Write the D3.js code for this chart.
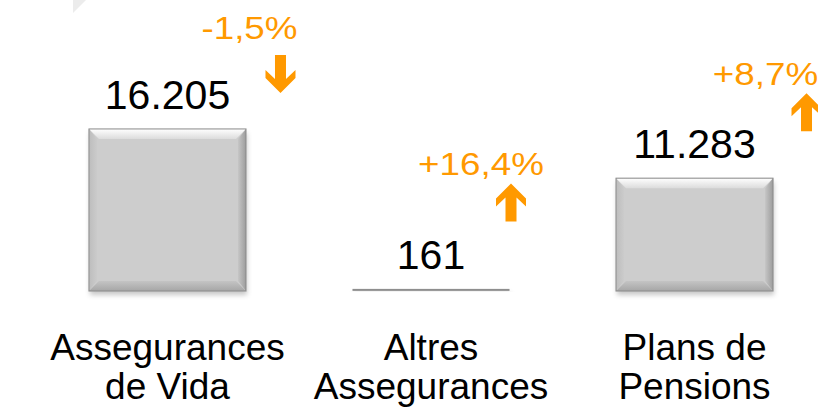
<!DOCTYPE html>
<html>
<head>
<meta charset="utf-8">
<script src="https://cdn.jsdelivr.net/npm/d3@7"></script>
<style>
  html, body { margin: 0; padding: 0; background: #fff; }
  svg { display: block; font-family: "Liberation Sans", Arial, sans-serif; }
</style>
</head>
<body>
<svg id="chart"></svg>
<script>
// dades
const categories = [["Assegurances", "de Vida"], ["Altres", "Assegurances"], ["Plans de", "Pensions"]];
const values = [16205, 161, 11283];
const valueLabels = ["16.205", "161", "11.283"];
const growthLabels = ["-1,5%", "+16,4%", "+8,7%"];
const growthDir = ["down", "up", "up"];

// posició de les anotacions respecte a cada barra (layout)
const annot = [
  { tx: 82, ty: -90, ax: 113, ay: -74 },
  { tx: 50, ty: -114, ax: 80, ay: -106 },
  { tx: 71, ty: -93, ax: 112, ay: -85 },
];

const width = 818, height = 407;
const orange = "#ff9900";

const svg = d3.select("#chart").attr("width", width).attr("height", height);

// ombra + gradients
const defs = svg.append("defs");
const shadow = defs.append("filter").attr("id", "shadow")
  .attr("x", "-10%").attr("y", "-10%").attr("width", "130%").attr("height", "140%");
shadow.append("feDropShadow").attr("dx", 1).attr("dy", 4).attr("stdDeviation", 2.5)
  .attr("flood-color", "#000").attr("flood-opacity", 0.22);

const gTop = defs.append("linearGradient").attr("id", "bevTop").attr("x1", 0).attr("y1", 0).attr("x2", 0).attr("y2", 1);
gTop.append("stop").attr("offset", "0%").attr("stop-color", "#ffffff");
gTop.append("stop").attr("offset", "100%").attr("stop-color", "#dcdcdc");
const gBot = defs.append("linearGradient").attr("id", "bevBot").attr("x1", 0).attr("y1", 0).attr("x2", 0).attr("y2", 1);
gBot.append("stop").attr("offset", "0%").attr("stop-color", "#c4c4c4");
gBot.append("stop").attr("offset", "100%").attr("stop-color", "#a6a6a6");
const gRight = defs.append("linearGradient").attr("id", "bevRight").attr("x1", 0).attr("y1", 0).attr("x2", 1).attr("y2", 0);
gRight.append("stop").attr("offset", "0%").attr("stop-color", "#c6c6c6");
gRight.append("stop").attr("offset", "100%").attr("stop-color", "#9c9c9c");
const gLeft = defs.append("linearGradient").attr("id", "bevLeft").attr("x1", 0).attr("y1", 0).attr("x2", 1).attr("y2", 0);
gLeft.append("stop").attr("offset", "0%").attr("stop-color", "#bdbdbd");
gLeft.append("stop").attr("offset", "100%").attr("stop-color", "#cbcbcb");

// triangle decoratiu a dalt a l'esquerra
svg.append("path").attr("d", "M73,0 L86,0 L73,13 Z").attr("fill", "#ececec");

// escales
const x = d3.scaleBand().domain(d3.range(values.length)).range([-17.5, 879.5]).padding(0.404);
const y = d3.scaleLinear().domain([0, 20000]).range([291, 91]);

const bars = svg.append("g").attr("class", "bars")
  .selectAll("g.bar").data(values).join("g").attr("class", "bar");

bars.each(function (v, i) {
  const g = d3.select(this);
  const bx = x(i), bw = x.bandwidth();
  const by = y(v), bh = y(0) - y(v);
  const b = Math.min(10, bh / 2);

  if (bh < 4) {
    // barra gairebé plana: només una línia
    g.append("rect").attr("x", bx).attr("y", by - 0.5).attr("width", bw).attr("height", 2)
      .attr("fill", "#8e8e8e").attr("filter", "url(#shadow)");
    return;
  }

  g.append("rect").attr("x", bx).attr("y", by).attr("width", bw).attr("height", bh)
    .attr("fill", "#cdcdcd").attr("filter", "url(#shadow)");
  const poly = (pts, fill) => g.append("polygon")
    .attr("points", pts.map(p => p.join(",")).join(" ")).attr("fill", fill);
  poly([[bx, by], [bx + bw, by], [bx + bw - b, by + b], [bx + b, by + b]], "url(#bevTop)");
  poly([[bx, by + bh], [bx + bw, by + bh], [bx + bw - b, by + bh - b], [bx + b, by + bh - b]], "url(#bevBot)");
  poly([[bx, by], [bx + b * 0.8, by + b], [bx + b * 0.8, by + bh - b], [bx, by + bh]], "url(#bevLeft)");
  poly([[bx + bw, by], [bx + bw - b * 0.8, by + b], [bx + bw - b * 0.8, by + bh - b], [bx + bw, by + bh]], "url(#bevRight)");
  g.append("rect").attr("x", bx).attr("y", by).attr("width", bw).attr("height", bh)
    .attr("fill", "none").attr("stroke", "#8a8a8a").attr("stroke-width", 1);
});

// etiquetes de valor
svg.append("g").selectAll("text").data(valueLabels).join("text")
  .attr("x", (d, i) => x(i) + x.bandwidth() / 2)
  .attr("y", (d, i) => y(values[i]) - 20)
  .attr("text-anchor", "middle")
  .attr("font-size", 41)
  .attr("fill", "#000")
  .text(d => d);

// variacions
svg.append("g").selectAll("text").data(growthLabels).join("text")
  .attr("transform", (d, i) => `translate(${x(i) + x.bandwidth() / 2 + annot[i].tx},${y(values[i]) + annot[i].ty}) scale(1.15,1)`)
  .attr("text-anchor", "middle")
  .attr("font-size", 32)
  .attr("fill", orange)
  .text(d => d);

// fletxes
const upArrow = "M0,0 L15,15 L15,23 L5.5,14 L5.5,38 L-5.5,38 L-5.5,14 L-15,23 L-15,15 Z";
const downArrow = "M0,38 L15,23 L15,15 L5.5,24 L5.5,0 L-5.5,0 L-5.5,24 L-15,15 L-15,23 Z";
svg.append("g").selectAll("path").data(growthDir).join("path")
  .attr("transform", (d, i) => `translate(${x(i) + x.bandwidth() / 2 + annot[i].ax},${y(values[i]) + annot[i].ay})`)
  .attr("d", d => d === "up" ? upArrow : downArrow)
  .attr("fill", orange);

// categories
const cat = svg.append("g").selectAll("text").data(categories).join("text")
  .attr("text-anchor", "middle")
  .attr("font-size", 37)
  .attr("fill", "#000");
cat.selectAll("tspan").data((d, i) => d.map(t => ({ t, i }))).join("tspan")
  .attr("x", d => x(d.i) + x.bandwidth() / 2)
  .attr("y", (d, j) => 360 + j * 39)
  .text(d => d.t);
</script>
</body>
</html>
